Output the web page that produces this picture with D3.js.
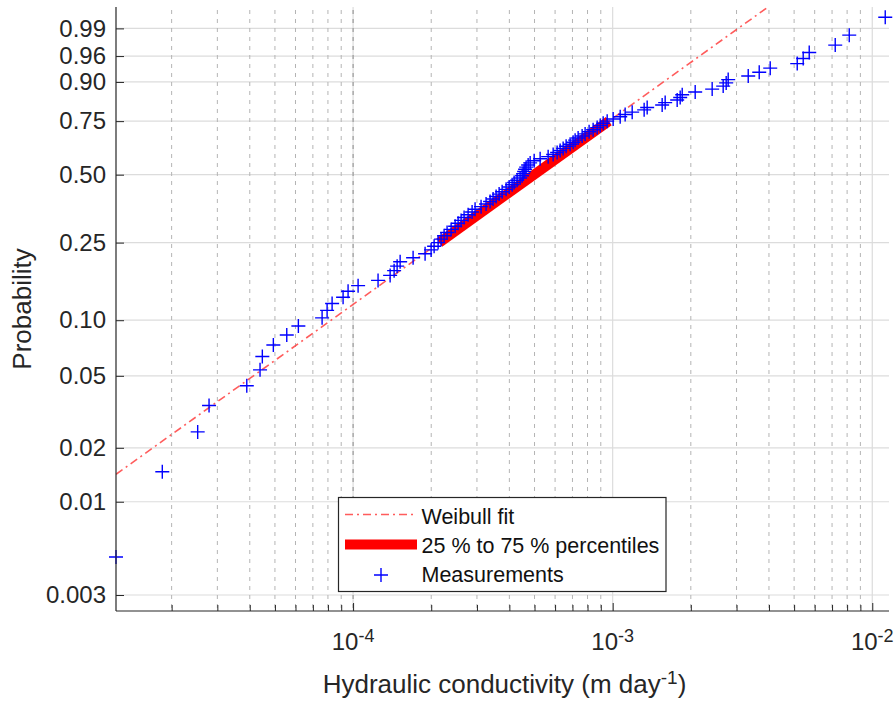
<!DOCTYPE html>
<html><head><meta charset="utf-8">
<script src="https://cdn.jsdelivr.net/npm/d3@7"></script>
<style>body{margin:0;background:#fff}svg{display:block;font-family:"Liberation Sans",Arial,Helvetica,sans-serif}</style>
</head><body><svg id="chart" width="896" height="703"></svg>
<script>
// ---- data ----
const measurements = [
1.221e-5, 1.841e-5, 2.52e-5, 2.787e-5, 3.895e-5, 4.381e-5, 4.471e-5, 4.93e-5, 5.553e-5, 6.155e-5,
7.597e-5, 7.942e-5, 8.302e-5, 9.152e-5, 9.566e-5, 1.0455e-4, 1.248e-4, 1.389e-4, 1.439e-4, 1.478e-4,
1.518e-4, 1.703e-4, 1.894e-4, 1.998e-4, 2.052e-4, 2.126e-4, 2.183e-4, 2.242e-4, 2.302e-4, 2.386e-4,
2.472e-4, 2.539e-4, 2.607e-4, 2.677e-4, 2.774e-4, 2.874e-4, 2.951e-4, 3.112e-4, 3.253e-4, 3.371e-4,
3.462e-4, 3.556e-4, 3.652e-4, 3.751e-4, 3.886e-4, 3.992e-4, 4.099e-4, 4.173e-4, 4.285e-4, 4.4e-4,
4.479e-4, 4.519e-4, 4.56e-4, 4.6e-4, 4.642e-4, 4.725e-4, 4.81e-4, 4.983e-4, 5.255e-4, 5.642e-4,
5.898e-4, 6.11e-4, 6.275e-4, 6.444e-4, 6.617e-4, 6.856e-4, 7.041e-4, 7.167e-4, 7.36e-4, 7.626e-4,
7.831e-4, 8.114e-4, 8.408e-4, 8.715e-4, 8.951e-4, 9.192e-4, 9.524e-4, 1.0044e-3, 1.069e-3, 1.117e-3,
1.189e-3, 1.322e-3, 1.358e-3, 1.551e-3, 1.593e-3, 1.772e-3, 1.82e-3, 1.853e-3, 2.079e-3, 2.417e-3,
2.665e-3, 2.737e-3, 2.786e-3, 3.328e-3, 3.669e-3, 4.045e-3, 5.14e-3, 5.42e-3, 5.717e-3, 7.2e-3,
8.153e-3, 1.122e-2
];
const yTickValues = [0.003, 0.01, 0.02, 0.05, 0.10, 0.25, 0.50, 0.75, 0.90, 0.96, 0.99];
const yTickLabels = ["0.003", "0.01", "0.02", "0.05", "0.10", "0.25", "0.50", "0.75", "0.90", "0.96", "0.99"];
const xMajorTicks = [1e-4, 1e-3, 1e-2];
const xTickBase = "10";
const xTickExponents = ["-4", "-3", "-2"];
const xDecades = [1e-5, 1e-4, 1e-3, 1e-2];
const minorMultipliers = [2, 3, 4, 5, 6, 7, 8, 9];
const fitScale = 7.07e-4;
const fitShape = 1.046;
const percentileRange = [0.25, 0.75];
const xLimits = [1.221e-5, 1.16e-2];
const yLimits = [0.00244, 0.9977];
const legendLabels = ["Weibull fit", "25 % to 75 % percentiles", "Measurements"];
const xLabelText = "Hydraulic conductivity (m day";
const xLabelExp = "-1";
const yLabelText = "Probability";

// ---- layout ----
const W = 896, H = 703;
const m = {left: 116, right: 7, top: 7, bottom: 92};
const wb = p => Math.log(-Math.log(1 - p));
const x = d3.scaleLog().domain(xLimits).range([m.left, W - m.right]);
const y = d3.scaleLinear().domain(yLimits.map(wb)).range([H - m.bottom, m.top]);
const svg = d3.select("#chart");
const axisColor = "#262626";

svg.append("defs").append("clipPath").attr("id", "plotClip")
  .append("rect").attr("x", m.left).attr("y", m.top)
  .attr("width", W - m.left - m.right).attr("height", H - m.top - m.bottom);

// minor ticks
const minorTicks = [];
xDecades.forEach(d => minorMultipliers.forEach(k => {
  const v = d * k;
  if (v > xLimits[0] && v < xLimits[1]) minorTicks.push(v);
}));

// ---- grid ----
const grid = svg.append("g");
grid.selectAll(".hg").data(yTickValues).join("line")
  .attr("x1", m.left).attr("x2", W - m.right)
  .attr("y1", d => y(wb(d))).attr("y2", d => y(wb(d)))
  .attr("stroke", "#dcdcdc").attr("stroke-width", 1.2);
grid.selectAll(".vg").data(xMajorTicks).join("line")
  .attr("x1", d => x(d)).attr("x2", d => x(d))
  .attr("y1", m.top).attr("y2", H - m.bottom)
  .attr("stroke", "#dcdcdc").attr("stroke-width", 1.2);
grid.selectAll(".vm").data(minorTicks.concat([xMajorTicks[0]])).join("line")
  .attr("x1", d => x(d)).attr("x2", d => x(d))
  .attr("y1", m.top + 3).attr("y2", H - m.bottom)
  .attr("stroke", (d, i) => i === minorTicks.length ? "#8a8a8a" : "#b4b4b4")
  .attr("stroke-width", 1).attr("stroke-dasharray", "4,5");

// ---- fit line ----
const fitW = v => fitShape * Math.log(v / fitScale);
const fitX = p => fitScale * Math.pow(-Math.log(1 - p), 1 / fitShape);
const line = d3.line().x(d => x(d)).y(d => y(fitW(d)));
svg.append("path").datum(xLimits)
  .attr("clip-path", "url(#plotClip)")
  .attr("d", line).attr("fill", "none")
  .attr("stroke", "#ff4040").attr("stroke-opacity", 0.85).attr("stroke-width", 1.6)
  .attr("stroke-dasharray", "8,4,2,4");
svg.append("path").datum(percentileRange.map(fitX))
  .attr("d", line).attr("fill", "none")
  .attr("stroke", "#ff0000").attr("stroke-width", 10);

// ---- measurements ----
const n = measurements.length;
const plus = s => `M${-s},0H${s}M0,${-s}V${s}`;
svg.append("g").selectAll("path").data(measurements).join("path")
  .attr("transform", (d, i) => `translate(${x(d)},${y(wb((i + 0.5) / n))})`)
  .attr("d", plus(7)).attr("fill", "none")
  .attr("stroke", "#0000ff").attr("stroke-width", 1.4);

// ---- axes ----
const yAxis = d3.axisLeft(y)
  .tickValues(yTickValues.map(wb))
  .tickFormat((d, i) => yTickLabels[i])
  .tickSize(-8).tickPadding(10);
const gy = svg.append("g").attr("transform", `translate(${m.left},0)`).call(yAxis);
gy.select(".domain").attr("d", `M0,${m.top}V${H - m.bottom}`).attr("stroke", axisColor).attr("stroke-width", 1.2);
gy.selectAll(".tick line").attr("stroke", axisColor);
gy.selectAll(".tick text").attr("font-size", 24).attr("fill", axisColor)
  .attr("font-family", '"Liberation Sans",Arial,sans-serif');

const xAxis = d3.axisBottom(x).tickValues(xMajorTicks).tickFormat("").tickSize(-8);
const gx = svg.append("g").attr("transform", `translate(0,${H - m.bottom})`).call(xAxis);
gx.select(".domain").attr("d", `M${m.left},0H${W - m.right}`).attr("stroke", axisColor).attr("stroke-width", 1.2);
gx.selectAll(".tick line").attr("stroke", axisColor);
const xMinorAxis = d3.axisBottom(x).tickValues(minorTicks).tickFormat("").tickSize(-6);
const gxm = svg.append("g").attr("transform", `translate(0,${H - m.bottom})`).call(xMinorAxis);
gxm.select(".domain").remove();
gxm.selectAll(".tick line").attr("stroke", axisColor);

const xl = svg.append("g").selectAll("text").data(xMajorTicks).join("text")
  .attr("x", d => x(d)).attr("y", 650).attr("text-anchor", "middle")
  .attr("fill", axisColor).attr("font-size", 24);
xl.append("tspan").text(xTickBase);
xl.append("tspan").attr("font-size", 18).attr("dy", -8.5).text((d, i) => xTickExponents[i]);

// axis labels
const xt = svg.append("text").attr("x", (m.left + W - m.right) / 2 + 2).attr("y", 693)
  .attr("text-anchor", "middle").attr("font-size", 26).attr("fill", axisColor);
xt.append("tspan").text(xLabelText);
xt.append("tspan").attr("font-size", 19).attr("dy", -9).text(xLabelExp);
xt.append("tspan").attr("dy", 9).text(")");

svg.append("text").attr("transform", `translate(31,${(m.top + H - m.bottom) / 2}) rotate(-90)`)
  .attr("text-anchor", "middle").attr("font-size", 26).attr("fill", axisColor).text(yLabelText);

// ---- legend ----
const lg = svg.append("g");
lg.append("rect").attr("x", 338.5).attr("y", 497.5).attr("width", 327.5).attr("height", 94)
  .attr("fill", "#fff").attr("stroke", axisColor).attr("stroke-width", 1.2);
const ly = [514.5, 544.5, 575];
const lt = [524.3, 553.3, 581.7];
lg.append("line").attr("x1", 345).attr("x2", 417).attr("y1", ly[0]).attr("y2", ly[0])
  .attr("stroke", "#ff4040").attr("stroke-opacity", 0.85).attr("stroke-width", 1.6).attr("stroke-dasharray", "8,4,2,4");
lg.append("line").attr("x1", 345).attr("x2", 417).attr("y1", ly[1]).attr("y2", ly[1])
  .attr("stroke", "#ff0000").attr("stroke-width", 10);
lg.append("path").attr("transform", `translate(381,${ly[2]})`).attr("d", plus(7))
  .attr("fill", "none").attr("stroke", "#0000ff").attr("stroke-width", 1.4);
lg.selectAll(".lt").data(legendLabels).join("text")
  .attr("x", 421.5).attr("y", (d, i) => lt[i]).attr("font-size", 21.5).attr("fill", "#111").text(d => d);
</script></body></html>
